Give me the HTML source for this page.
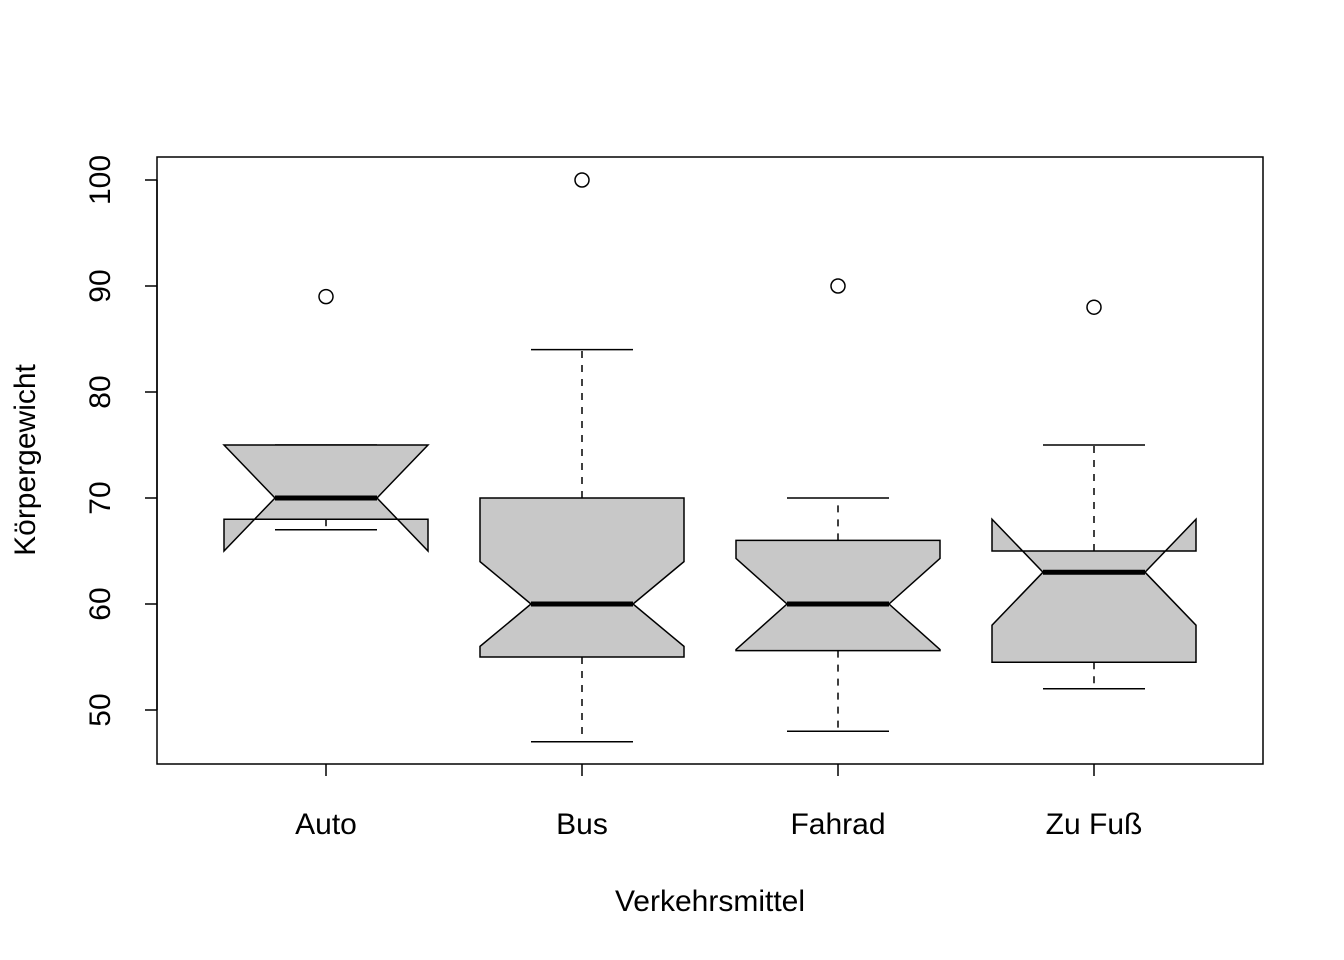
<!DOCTYPE html>
<html><head><meta charset="utf-8"><style>body{margin:0;background:#fff}svg{display:block}text{font-family:"Liberation Sans",Arial,sans-serif;font-size:30px;fill:#000}</style></head>
<body>
<svg id="chart" width="1344" height="960" viewBox="0 0 1344 960" xmlns="http://www.w3.org/2000/svg">
<rect x="157" y="157" width="1106" height="607" fill="none" stroke="#000" stroke-width="1.5"/>
<g id="marks"></g>
<text x="710" y="911" text-anchor="middle">Verkehrsmittel</text>
<text transform="translate(35,460) rotate(-90)" text-anchor="middle">Körpergewicht</text>
</svg>
<script>
const categories=["Auto","Bus","Fahrad","Zu Fuß"];
const whiskerLo=[67,47,48,52];
const q1=[68,55,55.6,54.5];
const median=[70,60,60,63];
const q3=[75,70,66,65];
const whiskerHi=[75,84,70,75];
const notchLo=[65,56,55.7,58];
const notchHi=[75,64,64.3,68];
const outliers=[[89],[100],[90],[88]];
const yTicks=[50,60,70,80,90,100];

const NS="http://www.w3.org/2000/svg";
const g=document.getElementById('marks');
const y=v=>710-(v-50)*10.6;
const x=i=>326+i*256;
const hw=102;
function mk(tag,attrs,parent){const e=document.createElementNS(NS,tag);for(const k in attrs)e.setAttribute(k,attrs[k]);(parent||g).appendChild(e);return e;}

yTicks.forEach(t=>{
  const l=mk('line',{x1:145,x2:157,y1:y(t),y2:y(t),stroke:'#000','stroke-width':1.5});
  
  
  const tx=mk('text',{transform:`translate(110,${y(t)}) rotate(-90)`,'text-anchor':'middle'});
  tx.textContent=t;
  
  
});
const ax=mk('line',{x1:157,x2:157,y1:y(yTicks[0]),y2:y(yTicks[yTicks.length-1]),stroke:'#000','stroke-width':1.5});



categories.forEach((c,i)=>{
  const xc=x(i),xl=xc-hw,xr=xc+hw,h=hw/2;
  const t=mk('line',{x1:xc,x2:xc,y1:764,y2:776,stroke:'#000','stroke-width':1.5});
  
  
  const lab=mk('text',{x:xc,y:834,'text-anchor':'middle'});
  lab.textContent=c;
  
  
  [[q1[i],whiskerLo[i]],[q3[i],whiskerHi[i]]].forEach(([a,b],k)=>{
    const w=mk('line',{x1:xc,x2:xc,y1:y(a),y2:y(b),stroke:'#000','stroke-width':1.5,'stroke-dasharray':'7,7'});
    
    
    const s=mk('line',{x1:xc-h,x2:xc+h,y1:y(b),y2:y(b),stroke:'#000','stroke-width':1.5});
    
    
  });
  const pts=[[xl,q1[i]],[xl,notchLo[i]],[xc-h,median[i]],[xl,notchHi[i]],[xl,q3[i]],[xr,q3[i]],[xr,notchHi[i]],[xc+h,median[i]],[xr,notchLo[i]],[xr,q1[i]]].map(p=>p[0]+','+y(p[1])).join(' ');
  const b=mk('polygon',{points:pts,fill:'#c8c8c8',stroke:'#000','stroke-width':1.5});
  
  
  const m=mk('line',{x1:xc-h,x2:xc+h,y1:y(median[i]),y2:y(median[i]),stroke:'#000','stroke-width':5});
  
  
  outliers[i].forEach(v=>{
    const o=mk('circle',{cx:xc,cy:y(v),r:7,fill:'none',stroke:'#000','stroke-width':1.5});
    
    
  });
});
</script>
</body></html>
